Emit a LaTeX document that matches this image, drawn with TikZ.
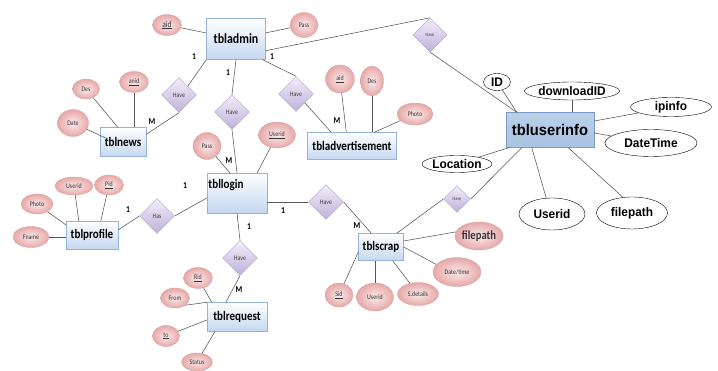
\documentclass[tikz,border=0pt]{standalone}
\usepackage{fontspec}
\setmainfont{Carlito}[FakeStretch = 0.85]
\newfontfamily\arialfont{Liberation Sans}[FakeStretch = 0.95]
\usetikzlibrary{shapes.geometric}
\usetikzlibrary{positioning}

\definecolor{entblue}{RGB}{196,215,240}
\definecolor{entborder}{RGB}{149,179,215}
\definecolor{attrlight}{RGB}{252,234,234}
\definecolor{attrdark}{RGB}{230,168,168}
\definecolor{attrborder}{RGB}{222,165,165}
\definecolor{rellight}{RGB}{242,238,249}
\definecolor{reldark}{RGB}{190,178,218}
\definecolor{relborder}{RGB}{170,155,205}
\definecolor{userblue}{RGB}{168,196,226}
\definecolor{userborder}{RGB}{120,155,200}
\definecolor{linkgray}{RGB}{85,85,85}

\tikzset{
	entity/.style = {draw = entborder, top color = white, bottom color = entblue, inner sep = 0pt,
		font = \bfseries\fontsize{13}{14}\selectfont},
	attr/.style = {ellipse, draw = attrborder, inner color = attrlight, outer color = attrdark,
		inner sep = 0pt, text = black!80, font = \fontsize{7}{8}\selectfont},
	rel/.style = {diamond, aspect = 1, draw = relborder, top color = rellight, bottom color = reldark,
		minimum width = 35pt, minimum height = 35pt, inner sep = 0pt, text = black!75,
		font = \fontsize{7}{8}\selectfont},
	uattr/.style = {ellipse, draw, fill = white, inner sep = 0pt,
		font = \arialfont\bfseries\fontsize{12.5}{13}\selectfont},
	card/.style = {font = \bfseries\fontsize{9}{10}\selectfont, inner sep = 0pt},
	link/.style = {draw = linkgray, line width = 0.55pt}
}

\begin{document}
\begin{tikzpicture}[x = 1pt, y = -1pt]
	\useasboundingbox (0, 0) rectangle (718, 371);

	\node (admin) [entity, minimum width = 59pt, minimum height = 41pt, font = \bfseries\fontsize{14}{15}\selectfont] at (236, 39) {tbladmin};
	\node (login) [entity, minimum width = 60pt, minimum height = 40pt, text depth = 18pt] at (237, 193) {tbllogin\hspace*{22pt}};
	\node (advert) [entity, minimum width = 89pt, minimum height = 27pt] at (352, 146) {tbladvertisement};
	\node (news) [entity, minimum width = 46pt, minimum height = 29pt] at (123, 142) {tblnews};
	\node (profile) [entity, minimum width = 52pt, minimum height = 28pt] at (92, 235) {tblprofile};
	\node (request) [entity, minimum width = 60pt, minimum height = 29pt] at (237, 317) {tblrequest};
	\node (scrap) [entity, minimum width = 45pt, minimum height = 27pt] at (381, 247) {tblscrap};
	\node (userinfo) [draw = userborder, top color = userblue!80, bottom color = userblue, minimum width = 88pt, minimum height = 35pt,
		font = \arialfont\bfseries\fontsize{15.5}{16}\selectfont] at (550, 130) {tbluserinfo};

	\node (haveU) [rel, minimum width = 34pt, minimum height = 34pt, font = \fontsize{5}{6}\selectfont] at (430, 35) {Have};
	\node (haveN) [rel] at (179, 95) {Have};
	\node (haveL) [rel] at (232, 112) {Have};
	\node (haveA) [rel] at (296, 94) {Have};
	\node (haveS) [rel] at (326, 202) {Have};
	\node (haveV) [rel, minimum width = 27pt, minimum height = 27pt, font = \fontsize{5}{6}\selectfont] at (457, 199) {Have};
	\node (has) [rel] at (157, 216) {Has};
	\node (haveR) [rel] at (240, 258) {Have};

	\node (aidA) [attr, minimum width = 29pt, minimum height = 21pt, font = \fontsize{9}{10}\selectfont] at (167, 25) {\underline{aid}};
	\node (passA) [attr, minimum width = 28pt, minimum height = 25pt] at (304, 25) {Pass};
	\node (anid) [attr, minimum width = 29pt, minimum height = 21pt] at (134, 82) {\underline{anid}};
	\node (desN) [attr, minimum width = 27pt, minimum height = 20pt] at (86, 89) {Des};
	\node (dateN) [attr, minimum width = 31pt, minimum height = 27pt] at (73, 123) {Date};
	\node (aidV) [attr, minimum width = 29pt, minimum height = 28pt] at (340, 79) {\underline{aid}};
	\node (desV) [attr, minimum width = 23pt, minimum height = 30pt] at (372, 81) {Des};
	\node (photoV) [attr, minimum width = 36pt, minimum height = 22pt] at (415, 114) {Photo};
	\node (passL) [attr, minimum width = 28pt, minimum height = 27pt] at (207, 146) {Pass};
	\node (useridL) [attr, minimum width = 37pt, minimum height = 26pt] at (277, 135) {\underline{Userid}};
	\node (useridP) [attr, minimum width = 38pt, minimum height = 18pt] at (74, 186) {Userid};
	\node (pid) [attr, minimum width = 29pt, minimum height = 20pt] at (109, 185) {\underline{Pid}};
	\node (photoP) [attr, minimum width = 32pt, minimum height = 20pt] at (37, 204) {Photo};
	\node (fname) [attr, minimum width = 36pt, minimum height = 21pt] at (31, 237) {Fname};
	\node (rid) [attr, minimum width = 29pt, minimum height = 21pt] at (198, 278) {\underline{Rid}};
	\node (from) [attr, minimum width = 29pt, minimum height = 20pt] at (175, 298) {From};
	\node (to) [attr, minimum width = 27pt, minimum height = 21pt] at (166, 336) {\underline{to}};
	\node (status) [attr, minimum width = 31pt, minimum height = 18pt] at (197, 362) {Status};
	\node (sid) [attr, minimum width = 28pt, minimum height = 24pt] at (339, 295) {\underline{Sid}};
	\node (useridS) [attr, minimum width = 37pt, minimum height = 28pt] at (375, 297) {Userid};
	\node (sdetails) [attr, minimum width = 41pt, minimum height = 23pt] at (418, 294) {S.details};
	\node (datetimeS) [attr, minimum width = 48pt, minimum height = 29pt] at (457, 272) {Date/time};
	\node (filepathS) [attr, minimum width = 47pt, minimum height = 28pt, font = \bfseries\fontsize{12.5}{13}\selectfont] at (479, 236) {filepath};

	\node (id) [uattr, minimum width = 27pt, minimum height = 17pt] at (497, 82) {ID};
	\node (download) [uattr, minimum width = 88pt, minimum height = 18pt] at (572, 91) {downloadID};
	\node (ipinfo) [uattr, minimum width = 81pt, minimum height = 19pt] at (671, 107) {ipinfo};
	\node (datetime) [uattr, minimum width = 92pt, minimum height = 27pt] at (651, 143) {DateTime};
	\node (location) [uattr, minimum width = 70pt, minimum height = 17pt] at (457, 164) {Location};
	\node (useridU) [uattr, minimum width = 66pt, minimum height = 32pt] at (552, 214) {Userid};
	\node (filepathU) [uattr, minimum width = 71pt, minimum height = 32pt] at (632, 213) {filepath};

	\draw [link] (aidA) -- (admin);
	\draw [link] (passA) -- (admin);
	\draw [link] ([yshift = 9pt]admin.south east) -- (haveU.north);
	\draw [link] (haveU.south) -- ([xshift = 11pt]userinfo.north west);
	\draw [link] (admin.south west) -- (haveN.north east);
	\draw [link] (haveN.south) -- ([yshift = -7pt]news.north east);
	\draw [link] (admin.south) -- (haveL.north);
	\draw [link] (haveL.south) -- (login.north);
	\draw [link] ([xshift = -3pt]admin.south east) -- (haveA.north);
	\draw [link] (haveA.south east) -- ([xshift = 24pt]advert.north west);

	\draw [link] (aidV) -- ([xshift = 39pt]advert.north west);
	\draw [link] (desV) -- (desV |- advert.north);
	\draw [link] (photoV) -- ([xshift = 67pt]advert.north west);
	\draw [link] (desN) -- ([xshift = 18pt]news.north west);
	\draw [link] (anid) -- (anid |- news.north);
	\draw [link] (dateN) -- ([xshift = 8pt, yshift = 3pt]news.west);

	\draw [link] (passL) -- ([xshift = 23pt]login.north west);
	\draw [link] (useridL) -- ([xshift = -10pt]login.north east);
	\draw [link] ([yshift = -9pt]login.east) -- (haveS.west);
	\draw [link] (haveS.east) -- ([xshift = 13pt]scrap.north west);
	\draw [link] ([xshift = -7pt]scrap.north east) -- (haveV.west);
	\draw [link] (haveV.east) -- ([xshift = 16pt]userinfo.south west);
	\draw [link] ([yshift = -5pt]login.west) -- (has.east);
	\draw [link] (has.west) -- ([yshift = 5pt]profile.east);
	\draw [link] (login.south) -- (haveR.north);
	\draw [link] (haveR.south) -- ([xshift = 19pt]request.north west);

	\draw [link] (photoP) -- ([yshift = -4pt]profile.north west);
	\draw [link] (useridP) -- ([xshift = 13pt]profile.north west);
	\draw [link] (pid) -- ([xshift = 35pt]profile.north west);
	\draw [link] (fname) -- (fname -| profile.west);

	\draw [link] (rid) -- ([xshift = 5pt]request.north west);
	\draw [link] (from.south east) -- (request.north west);
	\draw [link] (to) -- ([yshift = -3pt]request.west);
	\draw [link] (status) -- ([xshift = 8pt]request.south west);

	\draw [link] ([yshift = 6pt]scrap.east) -- (filepathS.170);
	\draw [link] (scrap.east) -- (datetimeS.160);
	\draw [link] (sdetails) -- ([xshift = -11pt]scrap.south east);
	\draw [link] (useridS) -- (useridS |- scrap.south);
	\draw [link] (sid) -- ([yshift = -5pt]scrap.west);

	\draw [link] (id) -- ([xshift = 11pt]userinfo.north west);
	\draw [link] (download) -- (download |- userinfo.north);
	\draw [link] (ipinfo) -- ([yshift = 9pt]userinfo.east);
	\draw [link] (datetime) -- ([yshift = -3pt]userinfo.east);
	\draw [link] (location) -- ([xshift = 3pt]userinfo.south west);
	\draw [link] (useridU.110) -- ([xshift = 26pt]userinfo.south west);
	\draw [link] (filepathU.120) -- ([xshift = -26pt]userinfo.south east);

	\node (cAdminNews) [card] at (194, 57) {1};
	\node (cNews) [card] at (152, 122) {M};
	\node (cAdminLogin) [card] at (228, 73) {1};
	\node (cLoginAdmin) [card] at (229, 161) {M};
	\node (cAdminAdvert) [card] at (272, 57) {1};
	\node (cAdvert) [card] at (337, 121) {M};
	\node (cLoginHas) [card] at (185, 186) {1};
	\node (cProfile) [card] at (128, 210) {1};
	\node (cLoginRequest) [card] at (249, 227) {1};
	\node (cRequest) [card] at (239, 290) {M};
	\node (cLoginScrap) [card] at (283, 211) {1};
	\node (cScrap) [card] at (357, 226) {M};
\end{tikzpicture}
\end{document}
